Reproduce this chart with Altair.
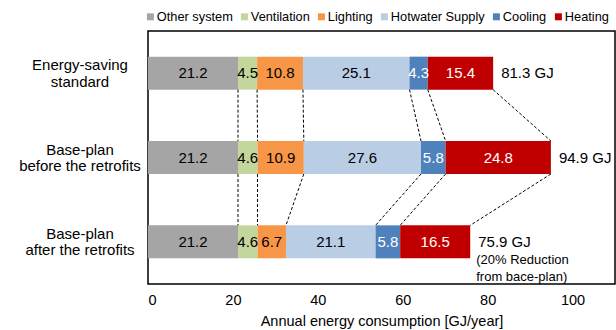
import altair as alt
import pandas as pd

# ---- data ----
categories = ["Other system", "Ventilation", "Lighting", "Hotwater Supply", "Cooling", "Heating"]
colors = ["#A5A5A5", "#C3D69B", "#F79646", "#B9CDE5", "#4F81BD", "#C00000"]
plans = ["Energy-saving\nstandard", "Base-plan\nbefore the retrofits", "Base-plan\nafter the retrofits"]
energy_saving = [21.2, 4.5, 10.8, 25.1, 4.3, 15.4]
base_before = [21.2, 4.6, 10.9, 27.6, 5.8, 24.8]
base_after = [21.2, 4.6, 6.7, 21.1, 5.8, 16.5]
totals = [81.3, 94.9, 75.9]
total_labels = ["81.3 GJ", "94.9 GJ", "75.9 GJ"]
note_text = "(20% Reduction\nfrom bace-plan)"
x_ticks = [0, 20, 40, 60, 80, 100]
white_text_cats = ["Cooling", "Heating"]

series = [energy_saving, base_before, base_after]

# ---- build tables ----
rows = []
ends = []
for plan, vals in zip(plans, series):
    start = 0.0
    plan_ends = []
    for cat, v in zip(categories, vals):
        end = round(start + v, 2)
        rows.append({"plan": plan, "cat": cat, "start": start, "end": end,
                     "mid": (start + end) / 2, "val": v})
        plan_ends.append(end)
        start = end
    ends.append(plan_ends)
bars = pd.DataFrame(rows)

conn = []
for i in range(len(plans) - 1):
    for k in range(len(categories)):
        conn.append({"p1": plans[i], "p2": plans[i + 1], "x1": ends[i][k], "x2": ends[i + 1][k]})
conn = pd.DataFrame(conn)

tot = pd.DataFrame({"plan": plans, "total": totals, "label": total_labels})
note = pd.DataFrame({"plan": [plans[2]], "total": [totals[2]], "label": [note_text]})
cats_df = pd.DataFrame({"plan": plans})

FONT = "Liberation Sans"

xscale = alt.Scale(domain=[0, 110], nice=False)
yscale = alt.Scale(domain=plans, paddingInner=0.6087, paddingOuter=0.30435)

x_axis = alt.Axis(values=x_ticks, title="Annual energy consumption [GJ/year]",
                  grid=False, ticks=False, domain=False, labelFontSize=14.5,
                  labelPadding=9, titleFontSize=14.5, titleFontWeight="normal",
                  titlePadding=8, labelColor="black", titleColor="black",
                  labelFont=FONT, titleFont=FONT)

bar_layer = alt.Chart(bars).mark_bar().encode(
    x=alt.X("start:Q", scale=xscale, axis=x_axis),
    x2="end:Q",
    y=alt.Y("plan:N", scale=yscale, sort=plans, axis=None),
    color=alt.Color("cat:N", scale=alt.Scale(domain=categories, range=colors),
                    sort=categories,
                    legend=alt.Legend(orient="none", legendX=-4, legendY=-21,
                                      direction="horizontal", title=None,
                                      symbolType="square", symbolSize=49,
                                      symbolStrokeWidth=0, labelFontSize=12.8,
                                      labelOffset=0, columnPadding=5, padding=0,
                                      labelColor="black", labelFont=FONT)),
)

rule_layer = alt.Chart(conn).mark_rule(color="black", strokeWidth=1, strokeDash=[3, 2]).encode(
    x=alt.X("x1:Q", scale=xscale, axis=x_axis),
    x2="x2:Q",
    y=alt.Y("p1:N", scale=yscale, sort=plans, axis=None, bandPosition=1),
    y2=alt.Y2("p2:N", bandPosition=0),
)

val_layer = alt.Chart(bars).mark_text(fontSize=15, font=FONT, baseline="middle").encode(
    x=alt.X("mid:Q", scale=xscale, axis=x_axis),
    y=alt.Y("plan:N", scale=yscale, sort=plans, axis=None),
    text=alt.Text("val:Q", format=".1f"),
    color=alt.condition(alt.FieldOneOfPredicate(field="cat", oneOf=white_text_cats),
                        alt.value("white"), alt.value("black")),
)

tot_layer = alt.Chart(tot).mark_text(fontSize=15, font=FONT, align="left", dx=8,
                                     baseline="middle", color="black").encode(
    x=alt.X("total:Q", scale=xscale, axis=x_axis),
    y=alt.Y("plan:N", scale=yscale, sort=plans, axis=None),
    text="label:N",
)

note_layer = alt.Chart(note).mark_text(fontSize=13, font=FONT, align="left", dx=6, dy=18,
                                       lineBreak="\n", lineHeight=17,
                                       baseline="middle", color="black").encode(
    x=alt.X("total:Q", scale=xscale, axis=x_axis),
    y=alt.Y("plan:N", scale=yscale, sort=plans, axis=None),
    text="label:N",
)

# category labels (left of the plot), centred multi-line text
cat_layer = alt.Chart(cats_df).mark_text(fontSize=15, font=FONT, align="center",
                                         baseline="middle", lineBreak="\n", dy=-8,
                                         lineHeight=16.5, color="black").encode(
    x=alt.value(-68),
    y=alt.Y("plan:N", scale=yscale, sort=plans, axis=None),
    text="plan:N",
)

chart = alt.layer(bar_layer, rule_layer, val_layer, tot_layer, note_layer, cat_layer).properties(
    width=467, height=253,
    padding={"left": 148, "top": 31, "right": 1, "bottom": 46},
    autosize=alt.AutoSizeParams(type="none"),
    background="white",
).configure(font=FONT).configure_view(stroke="black", strokeWidth=1.5)

chart.save("out.html", embed_options={"renderer": "svg", "actions": False})
